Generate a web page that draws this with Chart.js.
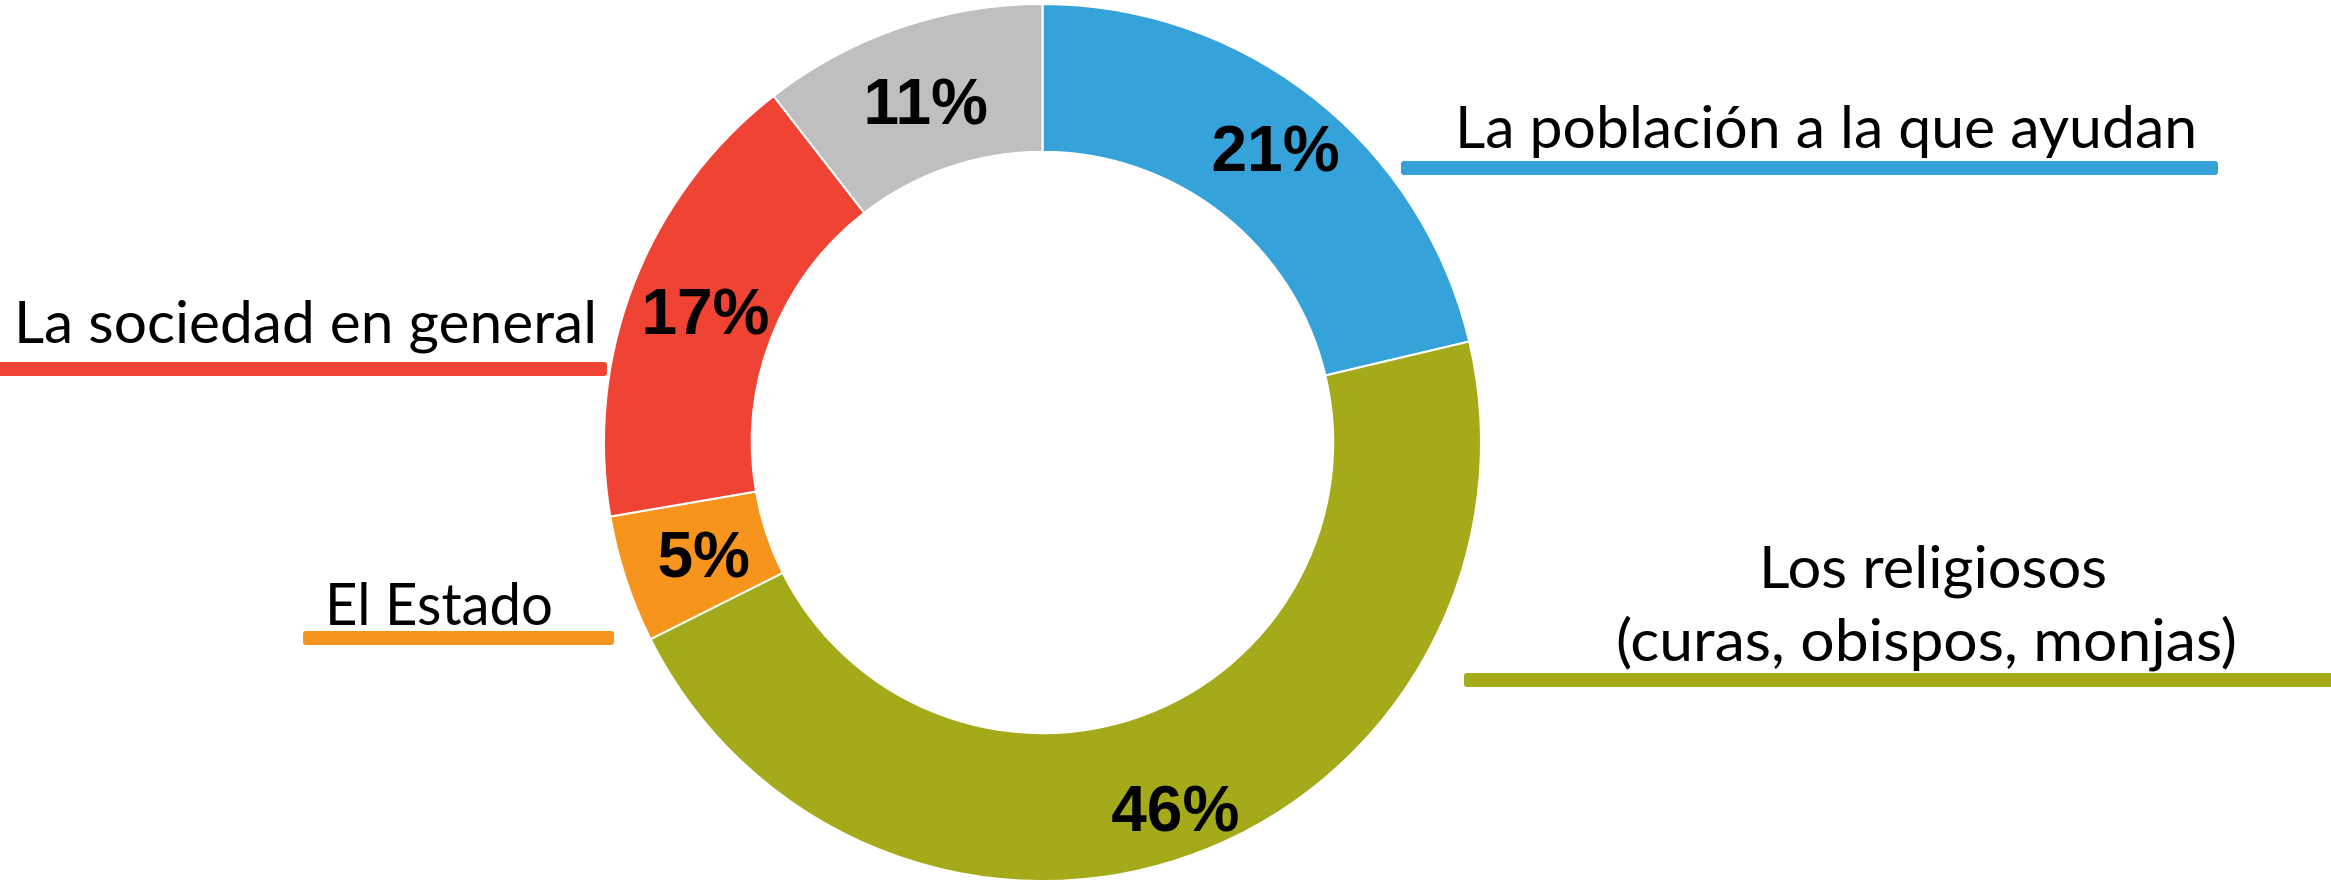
<!DOCTYPE html>
<html><head><meta charset="utf-8">
<script src="https://cdn.jsdelivr.net/npm/chart.js@4"></script>
<style>html,body{margin:0;padding:0;background:#fff}#wrap{width:2331px;height:887px}</style>
</head><body><div id="wrap"><canvas id="c" width="2331" height="887"></canvas></div>
<script>
// ---- data ----
const categories = ['La población a la que ayudan', 'Los religiosos\n(curas, obispos, monjas)', 'El Estado', 'La sociedad en general', 'Otros'];
const shares = [21.3, 46.3, 4.7, 17.2, 10.5];
const pctLabels = shares.map(v => Math.round(v) + '%');
const colors = ['#35A3DA', '#A5AA1A', '#F7941E', '#EF4433', '#BFBFBF'];

// ---- label layout (radial nudges of the % labels, px) ----
const labelRadialShift = [11, 24, -8, -3, -4];

// ---- callout layout (text boxes + coloured underline bars) ----
const callouts = [
  {index: 0, lines: [{x0: 1455, x1: 2197, base: 148}], bar: {x0: 1401, x1: 2218, y0: 161, y1: 175}},
  {index: 1, lines: [{x0: 1759, x1: 2107, base: 588}, {x0: 1616, x1: 2237, base: 661}], bar: {x0: 1464, x1: 2340, y0: 673, y1: 687}},
  {index: 2, lines: [{x0: 325, x1: 553, base: 625}], bar: {x0: 303, x1: 614, y0: 631, y1: 645}},
  {index: 3, lines: [{x0: 14, x1: 597, base: 343}], bar: {x0: -10, x1: 607, y0: 362, y1: 376}}
];

function rr(ctx, x, y, w, h, r) {
  ctx.beginPath();
  ctx.moveTo(x + r, y);
  ctx.lineTo(x + w - r, y); ctx.quadraticCurveTo(x + w, y, x + w, y + r);
  ctx.lineTo(x + w, y + h - r); ctx.quadraticCurveTo(x + w, y + h, x + w - r, y + h);
  ctx.lineTo(x + r, y + h); ctx.quadraticCurveTo(x, y + h, x, y + h - r);
  ctx.lineTo(x, y + r); ctx.quadraticCurveTo(x, y, x + r, y);
  ctx.closePath(); ctx.fill();
}

const labelPlugin = {
  id: 'labels',
  afterDatasetsDraw(chart) {
    const ctx = chart.ctx;
    const meta = chart.getDatasetMeta(0);
    ctx.save();
    ctx.font = 'bold 64px "Liberation Sans", Arial, sans-serif';
    ctx.fillStyle = '#000';
    ctx.textAlign = 'center';
    ctx.textBaseline = 'alphabetic';
    meta.data.forEach((arc, i) => {
      const pr = arc.getProps(['x', 'y', 'startAngle', 'endAngle', 'innerRadius', 'outerRadius']);
      const mid = (pr.startAngle + pr.endAngle) / 2;
      const r = (pr.innerRadius + pr.outerRadius) / 2 + labelRadialShift[i];
      const x = pr.x + Math.cos(mid) * r;
      const y = pr.y + Math.sin(mid) * r;
      ctx.fillText(pctLabels[i], x, y + 23);
    });
    callouts.forEach(c => {
      ctx.fillStyle = colors[c.index];
      rr(ctx, c.bar.x0, c.bar.y0, c.bar.x1 - c.bar.x0, c.bar.y1 - c.bar.y0, 3);
      const texts = categories[c.index].split('\n');
      ctx.fillStyle = '#000';
      ctx.textAlign = 'left';
      ctx.font = '58px Lato, "Open Sans", sans-serif';
      c.lines.forEach((ln, k) => {
        const w = ctx.measureText(texts[k]).width;
        const sx = (ln.x1 - ln.x0) / w;
        ctx.save();
        ctx.translate(ln.x0, ln.base);
        ctx.scale(sx, 1);
        ctx.fillText(texts[k], 0, 0);
        ctx.restore();
      });
    });
    ctx.restore();
  }
};

function build() {
  new Chart(document.getElementById('c'), {
    type: 'doughnut',
    data: {
      labels: categories,
      datasets: [{
        data: shares,
        backgroundColor: colors,
        borderColor: '#ffffff',
        borderWidth: 2
      }]
    },
    options: {
      responsive: false,
      animation: false,
      cutout: '66.3%',
      layout: {padding: {left: 603, right: 849, top: 3, bottom: 5}},
      plugins: {legend: {display: false}, tooltip: {enabled: false}}
    },
    plugins: [labelPlugin]
  });
}
Promise.all([
  document.fonts.load('58px Lato'),
  document.fonts.load('bold 64px "Liberation Sans"')
]).then(build, build);
</script>
</body></html>
